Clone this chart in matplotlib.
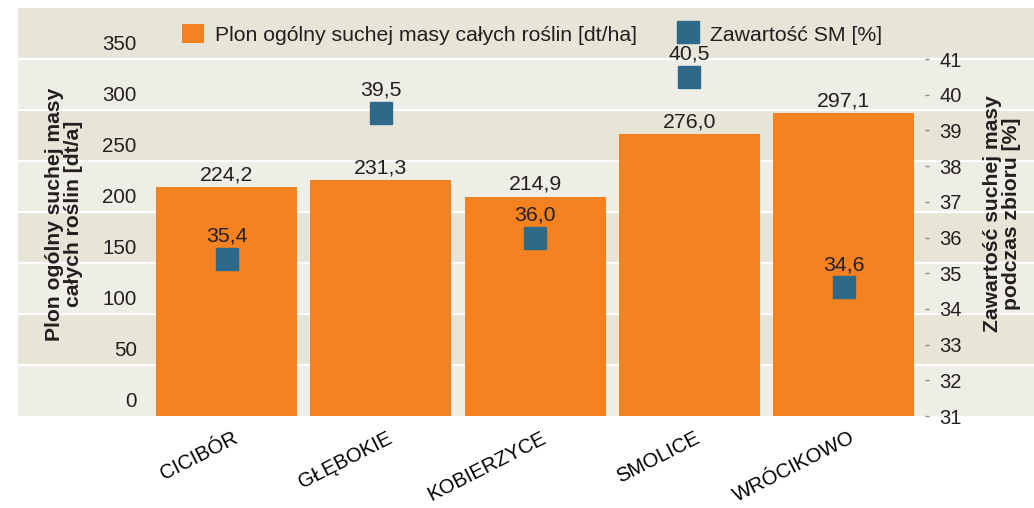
import matplotlib.pyplot as plt
import matplotlib.transforms as mtransforms
import numpy as np

# Data
places = ["CICIBÓR", "GŁĘBOKIE", "KOBIERZYCE", "SMOLICE", "WRÓCIKOWO"]
plon = [224.2, 231.3, 214.9, 276.0, 297.1]      # dt/ha
zawartosc = [35.4, 39.5, 36.0, 40.5, 34.6]      # %
left_ticks = [0, 50, 100, 150, 200, 250, 300, 350]
right_ticks = list(range(31, 42))

orange = "#F58220"
teal = "#2D6A8A"
dark_band = "#E7E4D8"
light_band = "#EEEDE6"
txt = "#231F20"

plt.rcParams['font.family'] = ['Liberation Sans', 'DejaVu Sans']
plt.rcParams['text.color'] = txt

fig = plt.figure(figsize=(10.34, 5.08), dpi=100)
W, H = 1034, 508
ax = fig.add_axes([18 / W, (H - 416) / H, 1016 / W, 408 / H])

# Striped background
ax.set_facecolor(light_band)
for lo in range(0, 400, 50):
    if (lo // 50) % 2 == 1:
        ax.axhspan(lo, lo + 50, color=dark_band, lw=0, zorder=0)
    if lo > 0:
        ax.axhline(lo, color="white", lw=1.6, zorder=0.5)

x = np.arange(len(places))
bars = ax.bar(x, plon, width=0.914, color=orange, zorder=2,
              label="Plon ogólny suchej masy całych roślin [dt/ha]")
ax.set_ylim(0, 400)
ax.set_xlim(-1.352, 5.235)

for xi, v in zip(x, plon):
    ax.annotate(f"{v:.1f}".replace(".", ","), (xi, v), xytext=(0, 5),
                textcoords="offset points", ha="center", va="baseline",
                fontsize=15.3, zorder=5)

# Right axis
ax2 = ax.twinx()
ax2.set_ylim(31, 31 + 400 * 10 / 350)
pts, = ax2.plot(x, zawartosc, linestyle="none", marker="s", markersize=16,
                color=teal, zorder=4, label="Zawartość SM [%]")
for xi, v in zip(x, zawartosc):
    ax2.annotate(f"{v:.1f}".replace(".", ","), (xi, v), xytext=(0, 12.2),
                 textcoords="offset points", ha="center", va="baseline",
                 fontsize=15.3, zorder=5)

for a in (ax, ax2):
    for s in a.spines.values():
        s.set_visible(False)

ax2.spines['right'].set_position(('axes', 0.893))
ax2.set_yticks(right_ticks)
ax2.tick_params(axis='y', length=3, width=1, color="#8a8a8a", pad=7,
                labelsize=14.5, labelcolor=txt)

# Left ticks inside the panel, shifted upward
ax.set_yticks(left_ticks)
ax.tick_params(axis='y', length=0, pad=-85.5, labelsize=14.8, labelcolor=txt)
up = mtransforms.ScaledTranslation(0, 12 / 72, fig.dpi_scale_trans)
for lab in ax.get_yticklabels():
    lab.set_transform(lab.get_transform() + up)

ax.set_xticks(x)
ax.set_xticklabels(places, rotation=27, ha="right", va="center",
                   rotation_mode="anchor", fontsize=14.6)
ax.tick_params(axis='x', length=0, pad=15)
right_shift = mtransforms.ScaledTranslation(7 / 72, 0, fig.dpi_scale_trans)
for lab in ax.get_xticklabels():
    lab.set_transform(lab.get_transform() + right_shift)

# Axis titles
fig.text(64 / W, 1 - 214 / H, "Plon ogólny suchej masy\ncałych roślin [dt/a]",
         rotation=90, ha="center", va="center", fontsize=15.2,
         fontweight="bold", multialignment="center", linespacing=1.05)
fig.text(1002 / W, 1 - 214 / H, "Zawartość suchej masy\npodczas zbioru [%]",
         rotation=90, ha="center", va="center", fontsize=15.2,
         fontweight="bold", multialignment="center", linespacing=1.05)

leg = ax.legend(handles=[bars, pts], ncol=2, frameon=False, loc="center",
                bbox_to_anchor=(0.506, 0.936), fontsize=15.3,
                handlelength=1.05, handleheight=1.05, handletextpad=0.5,
                columnspacing=1.9)
leg.set_zorder(10)

fig.savefig("out.png", dpi=100)
